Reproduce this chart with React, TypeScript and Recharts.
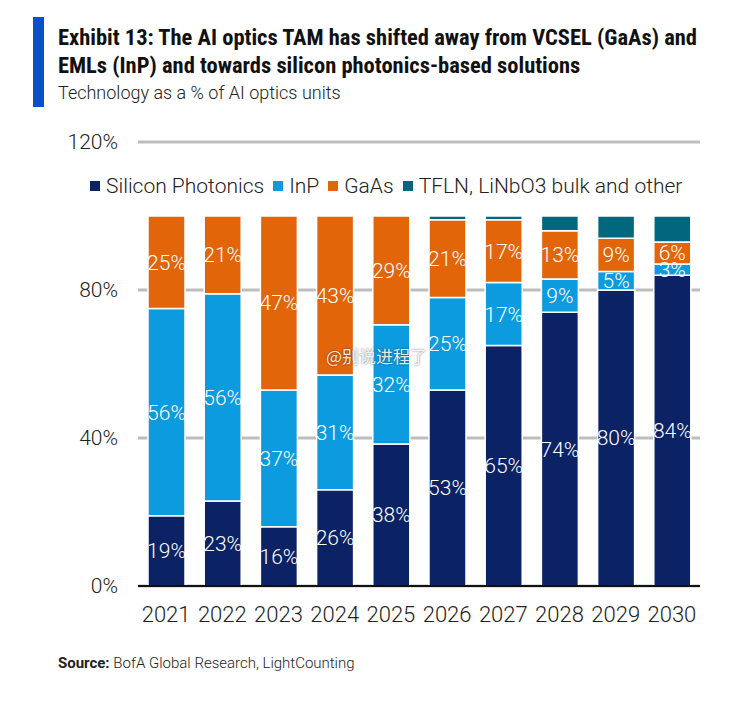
import { Bar, BarChart, CartesianGrid, LabelList, XAxis, YAxis } from "recharts";

const YEARS = ["2021", "2022", "2023", "2024", "2025", "2026", "2027", "2028", "2029", "2030"];
// shares as drawn; labels are the rounded values
const SILICON = [19, 23, 16, 26, 38.4, 53, 65, 74, 80, 84];
const INP = [56, 56, 37, 31, 32.2, 25, 17, 9, 5, 3];
const GAAS = [25, 21, 47, 43, 29.4, 21, 17, 13, 9, 6];
const TFLN = [0, 0, 0, 0, 0, 1, 1, 4, 6, 7];
const Y_TICKS = [0, 40, 80, 120];

const SERIES = [
  { key: "silicon", name: "Silicon Photonics", color: "#0b2265", labels: true },
  { key: "inp", name: "InP", color: "#0d9be0", labels: true },
  { key: "gaas", name: "GaAs", color: "#e3650a", labels: true },
  { key: "tfln", name: "TFLN, LiNbO3 bulk and other", color: "#00677f", labels: false },
];

const data = YEARS.map((year, i) => ({
  year,
  silicon: SILICON[i],
  inp: INP[i],
  gaas: GAAS[i],
  tfln: TFLN[i],
}));

const LIGHT = "Roboto, 'Open Sans', sans-serif";
const NARROW = "'Liberation Sans Narrow', 'Roboto Condensed', Roboto, sans-serif";

export default function App() {
  return (
    <div
      style={{
        position: "absolute",
        left: 0,
        top: 0,
        width: 740,
        height: 712,
        background: "#fff",
        fontFamily: LIGHT,
        color: "#1a1a1a",
      }}
    >
      {/* header */}
      <div style={{ position: "absolute", left: 33, top: 17, width: 11, height: 90, background: "#0a50c8" }} />
      <div
        style={{
          position: "absolute",
          left: 58,
          top: 23,
          width: 680,
          fontFamily: NARROW,
          fontWeight: 700,
          fontSize: 22.5,
          lineHeight: "28px",
          color: "#111",
          whiteSpace: "nowrap",
        }}
      >
        Exhibit 13: The AI optics TAM has shifted away from VCSEL (GaAs) and
        <br />
        EMLs (InP) and towards silicon photonics-based solutions
      </div>
      <div style={{ position: "absolute", left: 58, top: 82, fontSize: 18, fontWeight: 300, color: "#222" }}>
        Technology as a % of AI optics units
      </div>

      <BarChart
        width={740}
        height={712}
        data={data}
        margin={{ top: 142, right: 40, bottom: 86, left: 58 }}
        style={{ position: "absolute", left: 0, top: 0 }}
      >
        <CartesianGrid vertical={false} stroke="#bdbdbd" strokeWidth={3} />
        <YAxis
          width={80}
          domain={[0, 120]}
          ticks={Y_TICKS}
          interval={0}
          tickFormatter={(v) => `${v}%`}
          axisLine={false}
          tickLine={false}
          tickSize={0}
          tickMargin={20}
          tick={{ fill: "#222", fontSize: 21, fontWeight: 300, fontFamily: LIGHT }}
        />
        <XAxis
          dataKey="year"
          height={40}
          axisLine={{ stroke: "#111", strokeWidth: 2 }}
          tickLine={false}
          tickMargin={14}
          interval={0}
          tick={{ fill: "#222", fontSize: 22, fontWeight: 300, fontFamily: LIGHT }}
        />
        {SERIES.map((s) => (
          <Bar
            key={s.key}
            dataKey={s.key}
            name={s.name}
            stackId="a"
            fill={s.color}
            stroke="#fff"
            strokeWidth={1.5}
            barSize={37}
            isAnimationActive={false}
          >
            {s.labels && (
              <LabelList
                dataKey={s.key}
                position="center"
                formatter={(v) => `${Math.round(Number(v))}%`}
                style={{ fill: "#fff", fontSize: 21, fontWeight: 300, fontFamily: LIGHT }}
              />
            )}
          </Bar>
        ))}
      </BarChart>

      {/* legend */}
      <div
        style={{
          position: "absolute",
          left: 90,
          top: 174,
          display: "flex",
          alignItems: "center",
          gap: 9,
          fontSize: 21,
          fontWeight: 300,
          color: "#222",
          whiteSpace: "nowrap",
        }}
      >
        {SERIES.map((s) => (
          <span key={s.key} style={{ display: "flex", alignItems: "center", gap: 6 }}>
            <span style={{ width: 10, height: 10, background: s.color, display: "inline-block" }} />
            {s.name}
          </span>
        ))}
      </div>

      {/* watermark */}
      <div
        style={{
          position: "absolute",
          left: 326,
          top: 343,
          fontSize: 17,
          fontFamily: "'Noto Sans CJK SC', sans-serif",
          color: "rgba(255,255,255,0.9)",
          textShadow: "0 0 2px rgba(0,0,0,0.6)",
        }}
      >
        @别说进程了
      </div>

      <div style={{ position: "absolute", left: 58, top: 654, fontSize: 15, color: "#222" }}>
        <span style={{ fontWeight: 700 }}>Source:</span>{" "}
        <span style={{ fontWeight: 300 }}>BofA Global Research, LightCounting</span>
      </div>
    </div>
  );
}
